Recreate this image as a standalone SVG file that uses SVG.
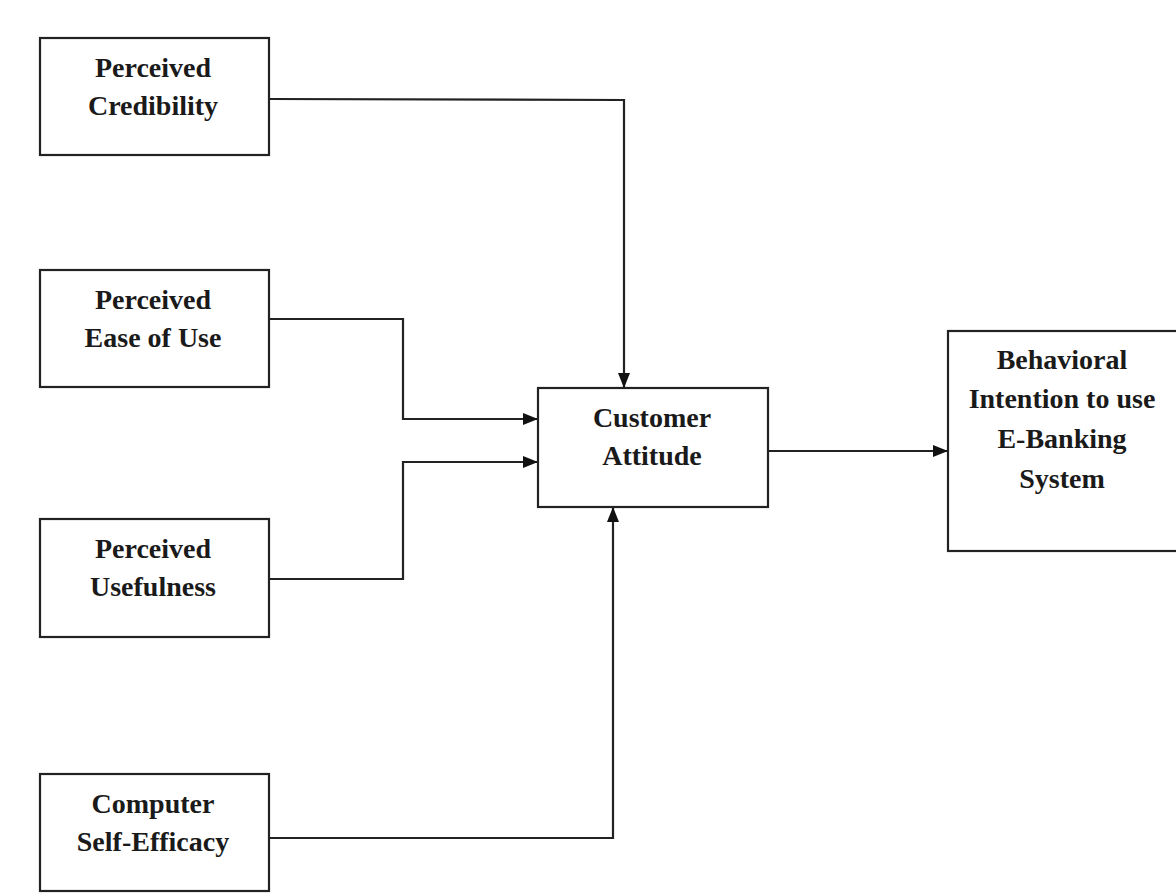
<svg xmlns="http://www.w3.org/2000/svg" width="1176" height="895" viewBox="0 0 1176 895">
<style>
.box{fill:#fff;stroke:#222;stroke-width:2.2}
.t{font-family:'Liberation Serif','DejaVu Serif','Times New Roman',serif;font-weight:bold;font-size:28px;fill:#1a1a1a;text-anchor:middle}
.c{fill:none;stroke:#222;stroke-width:2.2}
</style>
<defs>
<marker id="ah" markerWidth="15" markerHeight="12" refX="15" refY="6" orient="auto" markerUnits="userSpaceOnUse">
<path d="M0,0 L15,6 L0,12 Z" fill="#111"/>
</marker>
</defs>
<rect width="1176" height="895" fill="#fff"/>
<g id="connectors">
<path class="c" d="M269,99 L624,100 L624,388" marker-end="url(#ah)"/>
<path class="c" d="M269,319 L403,319 L403,419 L538,419" marker-end="url(#ah)"/>
<path class="c" d="M269,579 L403,579 L403,462 L538,462" marker-end="url(#ah)"/>
<path class="c" d="M269,838 L613,838 L613,507" marker-end="url(#ah)"/>
<path class="c" d="M768,451 L948,451" marker-end="url(#ah)"/>
</g>
<g id="credibility">
<rect class="box" x="40" y="38" width="229" height="117"/>
<text class="t" x="153" y="77">Perceived</text>
<text class="t" x="153" y="115">Credibility</text>
</g>
<g id="ease">
<rect class="box" x="40" y="270" width="229" height="117"/>
<text class="t" x="153" y="309">Perceived</text>
<text class="t" x="153" y="347">Ease of Use</text>
</g>
<g id="usefulness">
<rect class="box" x="40" y="519" width="229" height="118"/>
<text class="t" x="153" y="558">Perceived</text>
<text class="t" x="153" y="596">Usefulness</text>
</g>
<g id="selfefficacy">
<rect class="box" x="40" y="774" width="229" height="117"/>
<text class="t" x="153" y="813">Computer</text>
<text class="t" x="153" y="851">Self-Efficacy</text>
</g>
<g id="attitude">
<rect class="box" x="538" y="388" width="230" height="119"/>
<text class="t" x="652" y="427">Customer</text>
<text class="t" x="652" y="465">Attitude</text>
</g>
<g id="intention">
<rect class="box" x="948" y="331" width="240" height="220"/>
<text class="t" x="1062" y="369">Behavioral</text>
<text class="t" x="1062" y="408">Intention to use</text>
<text class="t" x="1062" y="448">E-Banking</text>
<text class="t" x="1062" y="488">System</text>
</g>
</svg>
